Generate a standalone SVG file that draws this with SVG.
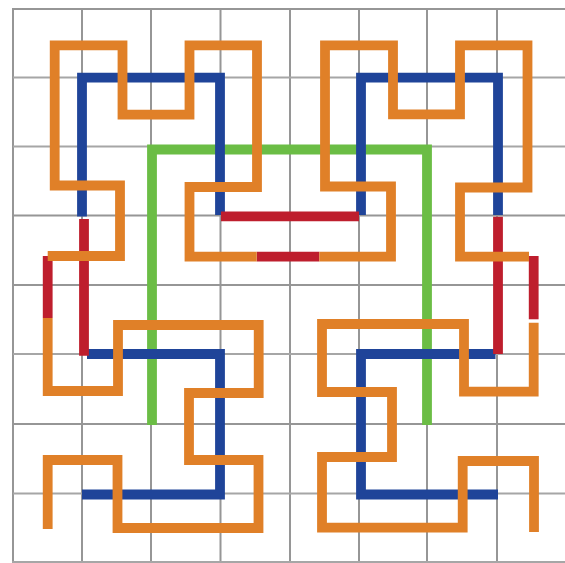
<svg xmlns="http://www.w3.org/2000/svg" width="565" height="563" viewBox="0 0 565 563">
<style>
.grid line{stroke:#969696;stroke-width:2}
.grid .h{stroke:#a6a6a6}
.curve{fill:none;stroke-width:9.8;stroke-linejoin:miter;stroke-linecap:butt}
.green{stroke:#6bbd45}
.blue{stroke:#1f4499}
.red{stroke:#be1e2d}
.orange{stroke:#e08028}
</style>
<rect width="565" height="563" fill="#ffffff"/>
<g id="grid" class="grid">
<line x1="13" y1="8" x2="13" y2="563"/>
<line x1="82" y1="9" x2="82" y2="562"/>
<line x1="151" y1="9" x2="151" y2="562"/>
<line x1="220.5" y1="9" x2="220.5" y2="562"/>
<line x1="290" y1="9" x2="290" y2="562"/>
<line x1="359" y1="9" x2="359" y2="562"/>
<line x1="427" y1="9" x2="427" y2="562"/>
<line x1="497" y1="9" x2="497" y2="562"/>
<line x1="12" y1="9" x2="565" y2="9"/>
<line class="h" x1="13" y1="77.5" x2="565" y2="77.5"/>
<line class="h" x1="13" y1="146.5" x2="565" y2="146.5"/>
<line x1="13" y1="215.5" x2="565" y2="215.5"/>
<line x1="13" y1="285" x2="565" y2="285"/>
<line class="h" x1="13" y1="354" x2="565" y2="354"/>
<line x1="13" y1="424" x2="565" y2="424"/>
<line class="h" x1="13" y1="493.5" x2="565" y2="493.5"/>
<line class="h" x1="12" y1="562" x2="565" y2="562"/>
</g>
<g id="connectors">
<g id="green-curve">
<path class="curve green" d="M152,425 V149.5 H427 V425"/>
</g>
<g id="blue-curve">
<path class="curve blue" d="M82,494.5 H220 V354 H87"/>
<path class="curve blue" d="M82,216.5 V77.7 H220 V215"/>
<path class="curve blue" d="M361,215 V77.7 H498 V215"/>
<path class="curve blue" d="M495.5,354 H361 V494.5 H498"/>
</g>
<g id="red-links">
<path class="curve red" d="M84,355.7 V219"/>
<path class="curve red" d="M221,216.3 H359"/>
<path class="curve red" d="M498,216.7 V354"/>
<path class="curve red" d="M47.7,318 V256"/>
<path class="curve red" d="M256.7,256.7 H319.3"/>
<path class="curve red" d="M533.7,256 V319.3"/>
</g>
<g id="orange-curve">
<path class="curve orange" d="M47.7,529 V460 H117.5 V528 H258.5 V460 H189 V393 H258.7 V325 H118 V391 H47.7 V318"/>
<path class="curve orange" d="M47.7,256 H120 V185.5 H54.7 V45.3 H122.5 V114.7 H189.5 V45.3 H257 V187 H189.5 V256.7 H256.7"/>
<path class="curve orange" d="M319.3,256.7 H391 V186.5 H325 V45.3 H393 V114.3 H460 V45.3 H527.5 V187.5 H460 V256.7 H529"/>
<path class="curve orange" d="M533.7,322.7 V391.7 H464 V324 H322 V392 H392 V457 H322 V527.7 H462.7 V461 H534 V532"/>
</g>
</g>
</svg>
